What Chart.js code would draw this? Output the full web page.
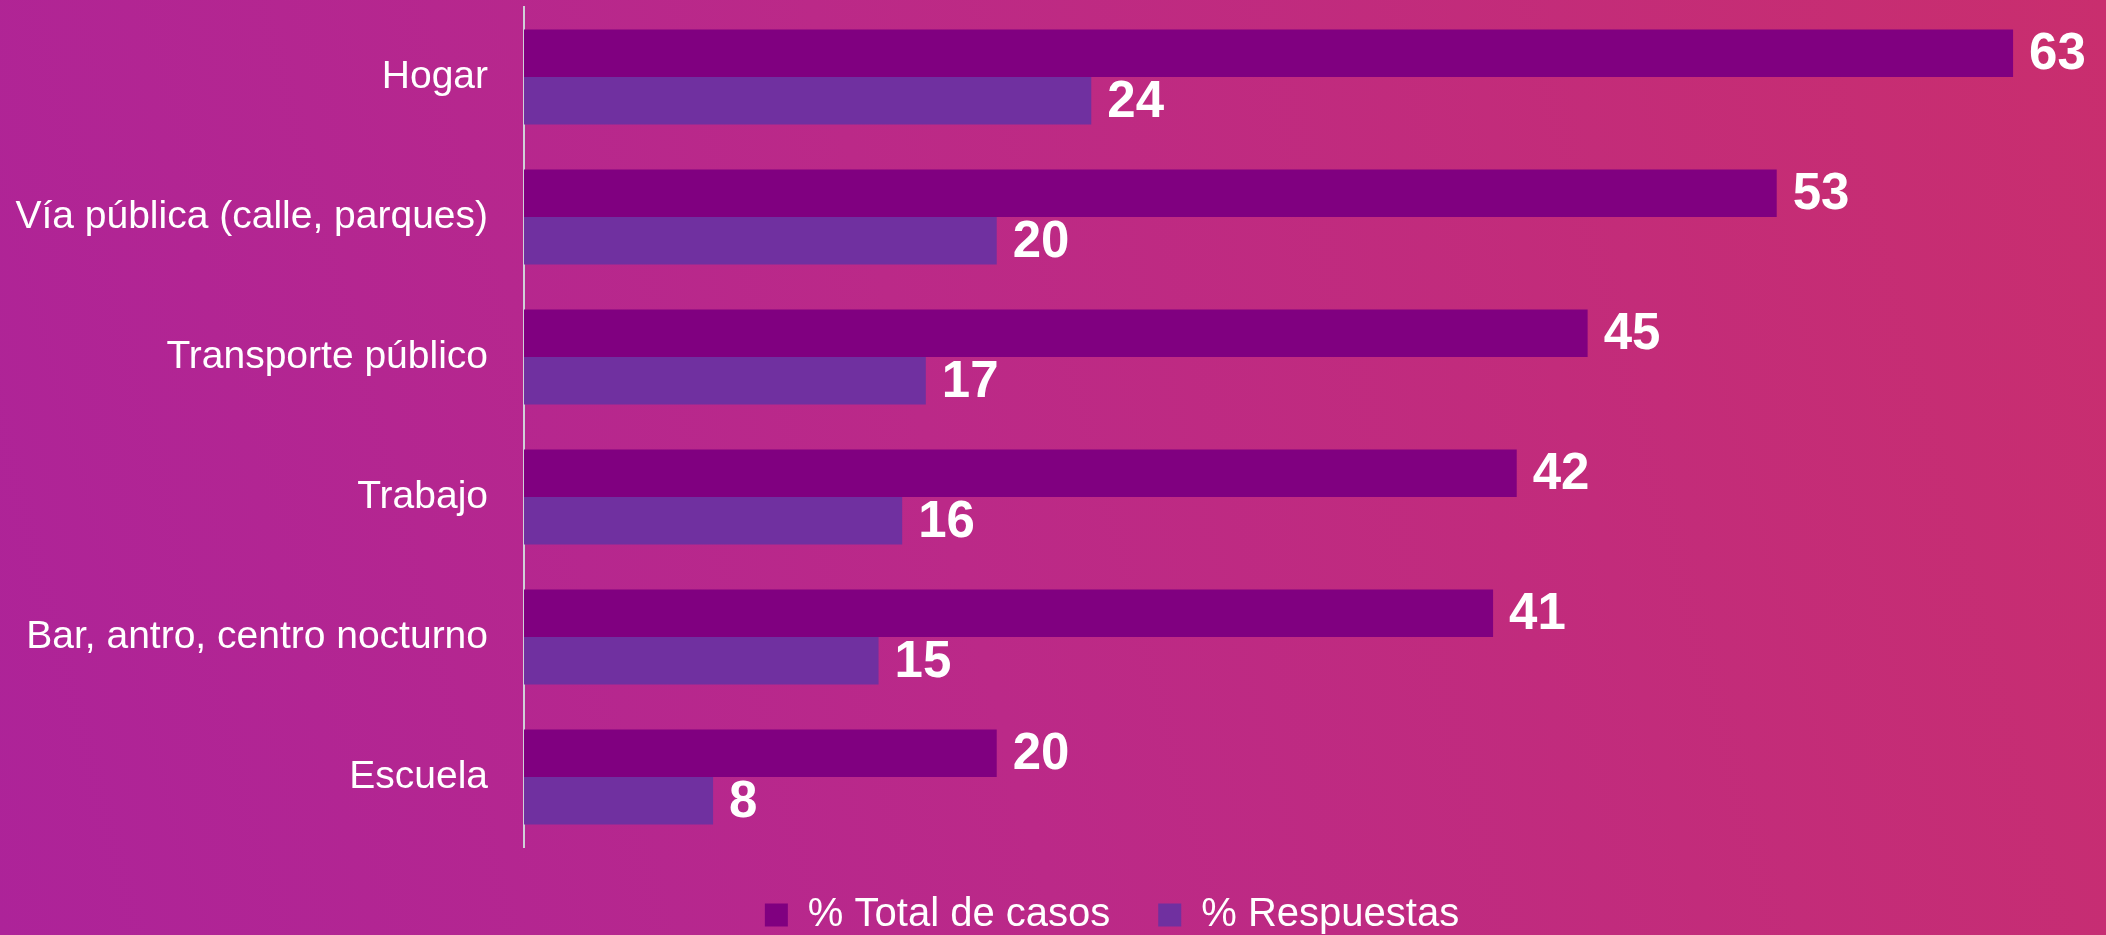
<!DOCTYPE html>
<html>
<head>
<meta charset="utf-8">
<script src="https://cdn.jsdelivr.net/npm/chart.js@4"></script>
<style>
  html, body { margin: 0; padding: 0; }
  body {
    width: 2106px; height: 935px; overflow: hidden;
    background: linear-gradient(75deg, #ad2399 0%, #bb2988 45%, #c92e6e 100%);
  }
  #wrap { width: 2106px; height: 935px; }
</style>
</head>
<body>
<div id="wrap"><canvas id="lugarChart"></canvas></div>
<script>
const categories = ['Hogar', 'Vía pública (calle, parques)', 'Transporte público', 'Trabajo', 'Bar, antro, centro nocturno', 'Escuela'];
const totalCasos = [63, 53, 45, 42, 41, 20];
const respuestas = [24, 20, 17, 16, 15, 8];

// value labels at the end of each bar
const barLabels = {
  id: 'barLabels',
  afterDatasetsDraw(chart) {
    const ctx = chart.ctx;
    ctx.save();
    ctx.fillStyle = '#ffffff';
    ctx.font = 'bold 51px "Liberation Sans", Arial, sans-serif';
    ctx.textAlign = 'left';
    ctx.textBaseline = 'middle';
    chart.data.datasets.forEach((ds, i) => {
      chart.getDatasetMeta(i).data.forEach((bar, j) => {
        ctx.fillText(ds.data[j], bar.x + 16, bar.y + 2);
      });
    });
    ctx.restore();
  }
};

// the legend sits a bit right of the canvas centre in the original
const legendShift = {
  id: 'legendShift',
  afterLayout(chart) {
    chart.legend.left += 70;
    chart.legend.right += 70;
  }
};

const ctx = document.getElementById('lugarChart').getContext('2d');
new Chart(ctx, {
  type: 'bar',
  data: {
    labels: categories,
    datasets: [{
      label: '% Total de casos',
      data: totalCasos,
      backgroundColor: '#800080'
    }, {
      label: '% Respuestas',
      data: respuestas,
      backgroundColor: '#7030a0'
    }]
  },
  options: {
    indexAxis: 'y',
    responsive: true,
    maintainAspectRatio: false,
    animation: false,
    categoryPercentage: 0.68,
    barPercentage: 1,
    layout: {
      padding: { top: 7, right: 22, left: 0, bottom: -10 }
    },
    plugins: {
      tooltip: { enabled: false },
      legend: {
        position: 'bottom',
        labels: {
          color: '#ffffff',
          font: { size: 40, family: '"Liberation Sans", Arial, sans-serif' },
          boxWidth: 23,
          boxHeight: 23,
          padding: 48
        }
      }
    },
    scales: {
      x: {
        display: false,
        min: 0,
        max: 66
      },
      y: {
        afterFit(scale) {
          scale.width = 524;
          scale.paddingTop = 0;
          scale.paddingBottom = 0;
        },
        grid: { display: false, drawTicks: true, tickLength: 36 },
        border: { display: true, color: '#d0d0d8', width: 2 },
        ticks: {
          color: '#ffffff',
          padding: 0,
          font: { size: 39, family: '"Liberation Sans", Arial, sans-serif' }
        }
      }
    }
  },
  plugins: [barLabels, legendShift]
});
</script>
</body>
</html>
